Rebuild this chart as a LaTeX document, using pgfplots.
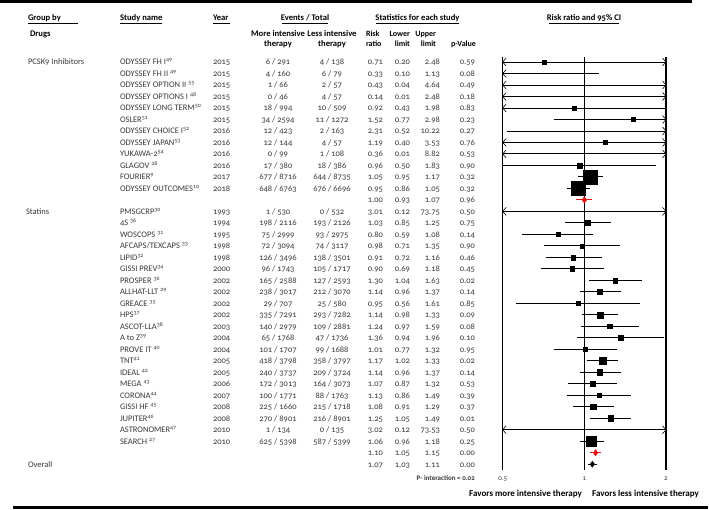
\documentclass[border=0pt]{standalone}
\usepackage{pgfplots}
\pgfplotsset{compat=1.18}
\usepackage{fontspec}
\setmainfont{Carlito}[Numbers=OldStyle]
\definecolor{txt}{gray}{0.22}
\definecolor{sred}{RGB}{225,25,30}

\pgfdeclareplotmark{ltip}{%
  \pgfpathmoveto{\pgfqpoint{3.5pt}{4pt}}%
  \pgfpathlineto{\pgfqpoint{0pt}{0pt}}%
  \pgfpathlineto{\pgfqpoint{3.5pt}{-4pt}}%
  \pgfusepathqstroke}
\pgfdeclareplotmark{rtip}{%
  \pgfpathmoveto{\pgfqpoint{-3.5pt}{4pt}}%
  \pgfpathlineto{\pgfqpoint{0pt}{0pt}}%
  \pgfpathlineto{\pgfqpoint{-3.5pt}{-4pt}}%
  \pgfusepathqstroke}

\tikzset{
  tx/.style={inner sep=0pt, outer sep=0pt, text=txt, font=\fontsize{8.5}{10}\selectfont},
  hd/.style={inner sep=0pt, outer sep=0pt, text=black, font=\fontsize{8.6}{10}\selectfont\bfseries},
  hs/.style={inner sep=0pt, outer sep=0pt, text=black, font=\fontsize{8}{10}\selectfont\bfseries},
}

% row index, name, year, events more, events less, RR, lower, upper, p
\newcommand\R[9]{%
  \pgfmathsetmacro\yy{510-(62+11.494*#1)-2.8}%
  \node[tx,anchor=base west] at (120pt,\yy pt) {#2};
  \node[tx,anchor=base west] at (213pt,\yy pt) {#3};
  \node[tx,anchor=base] at (278pt,\yy pt) {#4};
  \node[tx,anchor=base] at (332pt,\yy pt) {#5};
  \node[tx,anchor=base east] at (383pt,\yy pt) {#6};
  \node[tx,anchor=base east] at (410pt,\yy pt) {#7};
  \node[tx,anchor=base east] at (440pt,\yy pt) {#8};
  \node[tx,anchor=base east] at (475pt,\yy pt) {#9};
}
\newcommand\G[3]{%
  \pgfmathsetmacro\yy{510-(62+11.494*#1)-2.8}%
  \node[tx,anchor=base west] at (#2pt,\yy pt) {#3};
}
\newcommand\sps[1]{\textsuperscript{#1}}

\begin{document}
\begin{tikzpicture}
\path[use as bounding box] (0pt,0pt) rectangle (709pt,510pt);

% rules
\draw[line width=3pt] (0pt,508.5pt) -- (692pt,508.5pt);
\draw[line width=2.5pt] (13pt,2.5pt) -- (708pt,2.5pt);

% headers
\node[hd,anchor=base west] at (28pt,489pt) {Group by};
\draw[line width=0.6pt] (28pt,486.5pt) -- (78pt,486.5pt);
\node[hd,anchor=base west] at (120pt,489pt) {Study name};
\draw[line width=0.6pt] (120pt,486.5pt) -- (162pt,486.5pt);
\node[hd,anchor=base west] at (213pt,489pt) {Year};
\draw[line width=0.6pt] (213pt,486.5pt) -- (230pt,486.5pt);
\node[hd,anchor=base] at (305pt,489pt) {Events / Total};
\draw[line width=0.6pt] (282pt,486.5pt) -- (328pt,486.5pt);
\node[hd,anchor=base] at (417.5pt,489pt) {Statistics for each study};
\draw[line width=0.6pt] (376pt,486.5pt) -- (459pt,486.5pt);
\node[hd,anchor=base] at (584pt,489pt) {Risk ratio and 95\% CI};
\draw[line width=0.6pt] (549pt,486.5pt) -- (619pt,486.5pt);

\node[hd,anchor=base west] at (30pt,473.5pt) {Drugs};
\node[hd,anchor=base] at (278pt,473pt) {More intensive};
\node[hd,anchor=base] at (278pt,463pt) {therapy};
\node[hd,anchor=base] at (332pt,473pt) {Less intensive};
\node[hd,anchor=base] at (332pt,463pt) {therapy};
\node[hs,anchor=base west] at (366pt,473pt) {Risk};
\node[hs,anchor=base west] at (366pt,463pt) {ratio};
\node[hs,anchor=base east] at (410pt,473pt) {Lower};
\node[hs,anchor=base east] at (410pt,463pt) {limit};
\node[hs,anchor=base east] at (436pt,473pt) {Upper};
\node[hs,anchor=base east] at (436pt,463pt) {limit};
\node[hs,anchor=base east] at (476pt,463pt) {p-Value};

% group labels
\G{0}{28}{PCSK9 Inhibitors}
\G{13}{26}{Statins}
\G{35}{28}{Overall}

% table rows
\R{0}{ODYSSEY FH I\sps{49}}{2015}{6 / 291}{4 / 138}{0.71}{0.20}{2.48}{0.59}
\R{1}{ODYSSEY FH II \sps{49}}{2015}{4 / 160}{6 / 79}{0.33}{0.10}{1.13}{0.08}
\R{2}{ODYSSEY OPTION II \sps{55}}{2015}{1 / 66}{2 / 57}{0.43}{0.04}{4.64}{0.49}
\R{3}{ODYSSEY OPTIONS I \sps{48}}{2015}{0 / 46}{4 / 57}{0.14}{0.01}{2.48}{0.18}
\R{4}{ODYSSEY LONG TERM\sps{50}}{2015}{18 / 994}{10 / 509}{0.92}{0.43}{1.98}{0.83}
\R{5}{OSLER\sps{51}}{2015}{34 / 2594}{11 / 1272}{1.52}{0.77}{2.98}{0.23}
\R{6}{ODYSSEY CHOICE I\sps{52}}{2016}{12 / 423}{2 / 163}{2.31}{0.52}{10.22}{0.27}
\R{7}{ODYSSEY JAPAN\sps{53}}{2016}{12 / 144}{4 / 57}{1.19}{0.40}{3.53}{0.76}
\R{8}{YUKAWA-2\sps{54}}{2016}{0 / 99}{1 / 108}{0.36}{0.01}{8.82}{0.53}
\R{9}{GLAGOV \sps{28}}{2016}{17 / 380}{18 / 386}{0.96}{0.50}{1.83}{0.90}
\R{10}{FOURIER\sps{9}}{2017}{677 / 8716}{644 / 8735}{1.05}{0.95}{1.17}{0.32}
\R{11}{ODYSSEY OUTCOMES\sps{10}}{2018}{648 / 6763}{676 / 6696}{0.95}{0.86}{1.05}{0.32}
\R{12}{}{}{}{}{1.00}{0.93}{1.07}{0.96}
\R{13}{PMSGCRP\sps{30}}{1993}{1 / 530}{0 / 532}{3.01}{0.12}{73.75}{0.50}
\R{14}{4S \sps{36}}{1994}{198 / 2116}{193 / 2126}{1.03}{0.85}{1.25}{0.75}
\R{15}{WOSCOPS \sps{31}}{1995}{75 / 2999}{93 / 2975}{0.80}{0.59}{1.08}{0.14}
\R{16}{AFCAPS/TEXCAPS \sps{33}}{1998}{72 / 3094}{74 / 3117}{0.98}{0.71}{1.35}{0.90}
\R{17}{LIPID\sps{32}}{1998}{126 / 3496}{138 / 3501}{0.91}{0.72}{1.16}{0.46}
\R{18}{GISSI PREV\sps{34}}{2000}{96 / 1743}{105 / 1717}{0.90}{0.69}{1.18}{0.45}
\R{19}{PROSPER \sps{36}}{2002}{165 / 2588}{127 / 2593}{1.30}{1.04}{1.63}{0.02}
\R{20}{ALLHAT-LLT \sps{29}}{2002}{238 / 3017}{212 / 3070}{1.14}{0.96}{1.37}{0.14}
\R{21}{GREACE \sps{35}}{2002}{29 / 707}{25 / 580}{0.95}{0.56}{1.61}{0.85}
\R{22}{HPS\sps{37}}{2002}{335 / 7291}{293 / 7282}{1.14}{0.98}{1.33}{0.09}
\R{23}{ASCOT-LLA\sps{38}}{2003}{140 / 2979}{109 / 2881}{1.24}{0.97}{1.59}{0.08}
\R{24}{A to Z\sps{39}}{2004}{65 / 1768}{47 / 1736}{1.36}{0.94}{1.96}{0.10}
\R{25}{PROVE IT \sps{40}}{2004}{101 / 1707}{99 / 1688}{1.01}{0.77}{1.32}{0.95}
\R{26}{TNT\sps{41}}{2005}{418 / 3798}{358 / 3797}{1.17}{1.02}{1.33}{0.02}
\R{27}{IDEAL \sps{42}}{2005}{240 / 3737}{209 / 3724}{1.14}{0.96}{1.37}{0.14}
\R{28}{MEGA \sps{43}}{2006}{172 / 3013}{164 / 3073}{1.07}{0.87}{1.32}{0.53}
\R{29}{CORONA\sps{44}}{2007}{100 / 1771}{88 / 1763}{1.13}{0.86}{1.49}{0.39}
\R{30}{GISSI HF \sps{45}}{2008}{225 / 1660}{215 / 1718}{1.08}{0.91}{1.29}{0.37}
\R{31}{JUPITER\sps{46}}{2008}{270 / 8901}{216 / 8901}{1.25}{1.05}{1.49}{0.01}
\R{32}{ASTRONOMER\sps{47}}{2010}{1 / 134}{0 / 135}{3.02}{0.12}{73.53}{0.50}
\R{33}{SEARCH \sps{27}}{2010}{625 / 5398}{587 / 5399}{1.06}{0.96}{1.18}{0.25}
\R{34}{}{}{}{}{1.10}{1.05}{1.15}{0.00}
\R{35}{}{}{}{}{1.07}{1.03}{1.11}{0.00}

\node[inner sep=0pt, anchor=base east, text=txt, font=\fontsize{7}{8}\selectfont\bfseries] at (475pt,29.5pt) {P- interaction = 0.02};
\node[inner sep=0pt, anchor=base east, font=\fontsize{9}{10}\selectfont\bfseries] at (582pt,13.5pt) {Favors more intensive therapy};
\node[inner sep=0pt, anchor=base west, font=\fontsize{9}{10}\selectfont\bfseries] at (592pt,13.5pt) {Favors less intensive therapy};

\begin{axis}[
  at={(502.7pt,40pt)}, anchor=south west,
  scale only axis, width=163.3pt, height=413pt,
  xmode=log, log basis x=2,
  xmin=0.5, xmax=2, ymin=-0.435, ymax=35.5,
  y dir=reverse,
  clip=false,
  axis line style={draw=none},
  major tick length=0pt,
  ytick=\empty,
  xtick={0.5,1,2}, xticklabels={0.5,1,2},
  xticklabel style={font=\fontsize{7}{8}\selectfont, text=txt, yshift=-3.5pt},
  xmajorgrids, major grid style={black, line width=1.2pt},
  /pgf/number format/assume math mode=true,
]
% confidence intervals (clipped to the 0.5--2 window)
\addplot[black, line width=0.9pt] table[empty line=jump] {
x y
0.5 0
2 0

0.5 1
1.13 1

0.5 2
2 2

0.5 3
2 3

0.5 4
1.98 4

0.77 5
2 5

0.52 6
2 6

0.5 7
2 7

0.5 8
2 8

0.50 9
1.83 9

0.95 10
1.17 10

0.86 11
1.05 11

0.5 13
2 13

0.85 14
1.25 14

0.59 15
1.08 15

0.71 16
1.35 16

0.72 17
1.16 17

0.69 18
1.18 18

1.04 19
1.63 19

0.96 20
1.37 20

0.56 21
1.61 21

0.98 22
1.33 22

0.97 23
1.59 23

0.94 24
1.96 24

0.77 25
1.32 25

1.02 26
1.33 26

0.96 27
1.37 27

0.87 28
1.32 28

0.86 29
1.49 29

0.91 30
1.29 30

1.05 31
1.49 31

0.5 32
2 32

0.96 33
1.18 33
};
% arrow tips for intervals beyond the window
\addplot[only marks, mark=ltip, black, line width=0.6pt] table {
x y
0.5 0
0.5 1
0.5 2
0.5 3
0.5 4
0.5 7
0.5 8
0.5 13
0.5 32
};
\addplot[only marks, mark=rtip, black, line width=0.6pt] table {
x y
2 0
2 2
2 3
2 5
2 6
2 7
2 8
2 13
2 32
};
% study weights (squares)
\addplot[scatter, only marks, mark=square*,
  scatter/use mapped color={draw=black, fill=black},
  visualization depends on={\thisrow{s} \as \ms},
  scatter/@pre marker code/.append style={/tikz/mark size=\ms}]
  table[x=rr, y=i, meta=s] {
i rr s
0 0.71 2
4 0.92 2
5 1.52 2
7 1.19 2
9 0.96 2.3
10 1.05 7
11 0.95 7.2
14 1.03 2.3
15 0.80 2
16 0.98 2.1
17 0.91 2.4
18 0.90 2.2
19 1.30 2.4
20 1.14 2.7
21 0.95 2
22 1.14 3
23 1.24 2.2
24 1.36 2.4
25 1.01 2
26 1.17 3.3
27 1.14 2.9
28 1.07 2.4
29 1.13 2
30 1.08 2.9
31 1.25 2.6
33 1.06 4.7
};
% subgroup summaries
\addplot[sred, line width=1pt] coordinates {(0.93,12) (1.07,12)};
\addplot[sred, line width=1pt] coordinates {(1.05,34) (1.15,34)};
\addplot[only marks, mark=diamond*, mark size=3.2pt, sred, mark options={fill=sred}] coordinates {(1.00,12) (1.10,34)};
% overall
\addplot[black, line width=1pt] coordinates {(1.03,35) (1.11,35)};
\addplot[only marks, mark=diamond*, mark size=3pt, black] coordinates {(1.07,35)};
\end{axis}
\end{tikzpicture}
\end{document}
